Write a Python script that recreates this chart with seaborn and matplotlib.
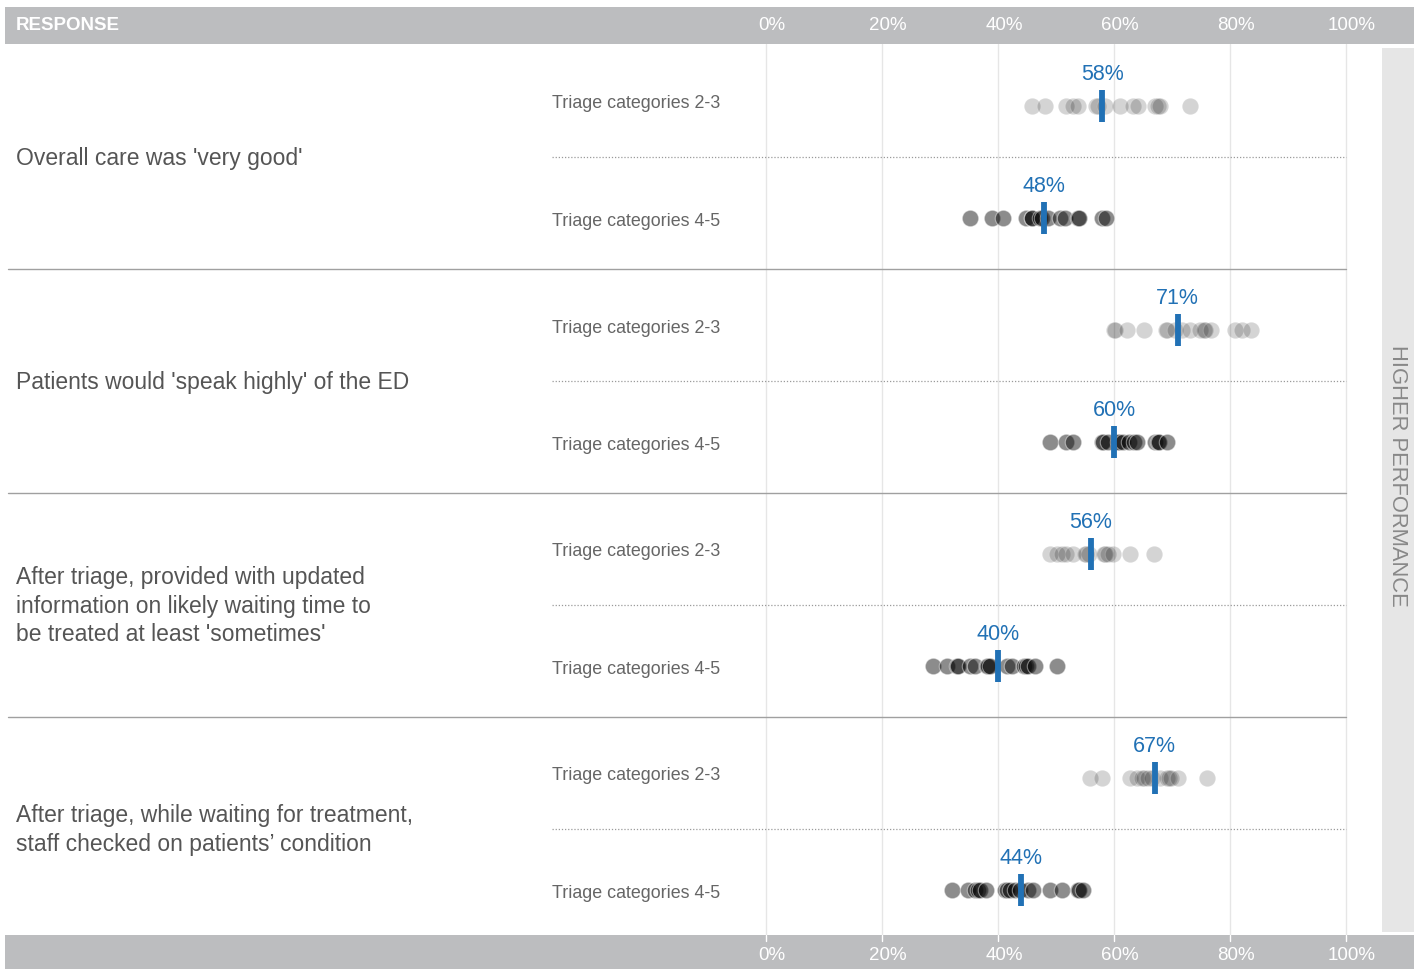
import numpy as np
import pandas as pd
import matplotlib
matplotlib.use("Agg")
import matplotlib.pyplot as plt
from matplotlib.patches import Rectangle
from matplotlib.lines import Line2D
import seaborn as sns

sns.set_theme(style="white")
plt.rcParams['font.family'] = ['Liberation Sans', 'DejaVu Sans']

# ---------------- data ----------------
questions = [
    "Overall care was 'very good'",
    "Patients would 'speak highly' of the ED",
    "After triage, provided with updated\ninformation on likely waiting time to\nbe treated at least 'sometimes'",
    "After triage, while waiting for treatment,\nstaff checked on patients\u2019 condition",
]
subgroups = ["Triage categories 2-3", "Triage categories 4-5"]

q1_t23 = [45.8, 48.1, 51.8, 53.0, 53.8, 56.9, 57.3, 58.4, 61.0, 63.3, 64.2, 67.1, 67.5, 67.9, 73.1]
q1_t45 = [35.1, 38.9, 40.9, 44.8, 45.8, 45.9, 47.2, 47.5, 48.7, 50.7, 51.6, 53.8, 53.9, 57.9, 58.7]
q2_t23 = [60.0, 60.2, 62.2, 65.1, 68.9, 69.1, 70.5, 71.8, 73.1, 74.8, 75.5, 75.7, 76.8, 80.9, 82.0, 83.7]
q2_t45 = [49.0, 51.8, 52.9, 57.9, 58.1, 59.0, 60.7, 60.9, 61.6, 62.5, 63.4, 63.9, 67.1, 67.6, 67.8, 69.1]
q3_t23 = [48.9, 50.1, 51.0, 51.8, 53.0, 55.0, 55.2, 55.7, 58.2, 58.4, 59.0, 59.9, 62.8, 66.9]
q3_t45 = [28.8, 31.2, 32.9, 33.1, 35.2, 36.0, 38.1, 38.3, 38.6, 41.5, 42.4, 44.4, 44.9, 45.2, 46.4, 50.1]
q4_t23 = [55.9, 57.9, 62.8, 63.9, 64.9, 65.1, 65.8, 66.5, 67.9, 69.2, 69.5, 69.9, 71.1, 76.0]
q4_t45 = [32.0, 34.9, 36.0, 36.5, 36.9, 37.9, 41.2, 41.5, 42.1, 42.9, 43.8, 45.2, 46.1, 49.0, 51.0, 53.8, 54.0, 54.7]

state_values = [58, 48, 71, 60, 56, 40, 67, 44]
tick_values = [0, 20, 40, 60, 80, 100]
tick_labels = ["0%", "20%", "40%", "60%", "80%", "100%"]

row_series = [q1_t23, q1_t45, q2_t23, q2_t45, q3_t23, q3_t45, q4_t23, q4_t45]

# ---------------- layout helpers ----------------
W, H = 1424, 969
def fx(x):
    return x / W
def fy(y):
    return 1 - y / H

fig = plt.figure(figsize=(W / 100, H / 100), dpi=100)
fig.patch.set_facecolor("white")

TOP, BOT = 46, 942
X0, X1 = 766, 1346
ax = fig.add_axes([fx(X0), fy(BOT), (X1 - X0) / W, (BOT - TOP) / H])
ax.set_xlim(0, 100)
ax.set_ylim(7.5, -0.5)
ax.set_axis_off()
ax.set_zorder(1)

DOT_OFF = 0.04

# gridlines (behind the axes content)
for t in tick_values:
    fig.add_artist(Line2D([fx(X0 + t * (X1 - X0) / 100)] * 2, [fy(44), fy(942)],
                          color="#e6e6e6", lw=1, zorder=0.5))

# dataframes
rows = []
for i, vals in enumerate(row_series):
    for v in vals:
        rows.append({"row": i + DOT_OFF, "value": v, "group": subgroups[i % 2]})
df = pd.DataFrame(rows)
df_light = df[df["group"] == subgroups[0]]
df_dark = df[df["group"] == subgroups[1]]

sns.scatterplot(data=df_light, x="value", y="row", color="black", alpha=0.17,
                s=140, edgecolor="white", linewidth=0.8, legend=False, ax=ax, zorder=3)
sns.scatterplot(data=df_dark, x="value", y="row", color="black", alpha=0.45,
                s=140, edgecolor="white", linewidth=0.8, legend=False, ax=ax, zorder=3)

blue = "#2171b5"
rows_idx = np.arange(len(state_values))
ax.vlines(state_values, rows_idx + DOT_OFF - 0.143, rows_idx + DOT_OFF + 0.143,
          color=blue, lw=4.2, zorder=5)
for i, v in enumerate(state_values):
    ax.text(v, i + DOT_OFF - 0.29, f"{v}%", ha="center", va="center",
            color=blue, fontsize=15.5, zorder=6)

# separators
for g in range(1, 4):
    y = TOP + 224 * g - 1
    fig.add_artist(Line2D([fx(8), fx(1346)], [fy(y), fy(y)], color="#a0a0a0", lw=1, zorder=2))
for g in range(4):
    y = TOP + 224 * g + 111
    fig.add_artist(Line2D([fx(552), fx(1346)], [fy(y), fy(y)], color="#9a9a9a", lw=0.9,
                          ls=(0, (1, 1.5)), zorder=2))

# subgroup labels
for i in range(8):
    y = TOP + 56 + 112 * i + (2 if i % 2 == 0 else 7)
    fig.text(fx(552), fy(y), subgroups[i % 2], ha="left", va="center",
             fontsize=12.9, color="#666666")

# question labels
for g, q in enumerate(questions):
    y = TOP + 112 + 224 * g
    fig.text(fx(16), fy(y), q, ha="left", va="center", fontsize=16.5,
             color="#555555", linespacing=1.28)

# header & footer bars
fig.add_artist(Rectangle((fx(5), fy(44)), fx(1414 - 5), (44 - 7) / H,
                         facecolor="#bcbdbf", edgecolor="none", zorder=4))
fig.add_artist(Rectangle((fx(5), 0), fx(1414 - 5), (969 - 935) / H,
                         facecolor="#bcbdbf", edgecolor="none", zorder=4))
fig.text(fx(16), fy(25), "RESPONSE", ha="left", va="center", color="white",
         fontsize=13.5, fontweight="bold", zorder=6)
for t, lab in zip(tick_values, tick_labels):
    x = X0 + t * (X1 - X0) / 100 + 6
    fig.text(fx(x), fy(25), lab, ha="center", va="center", color="white",
             fontsize=13.5, zorder=6)
    fig.text(fx(x), fy(956), lab, ha="center", va="center", color="white",
             fontsize=13.5, zorder=6)
    xt = X0 + t * (X1 - X0) / 100
    fig.add_artist(Line2D([fx(xt)] * 2, [fy(935), fy(941)], color="white", lw=1, zorder=5))

# right panel
fig.add_artist(Rectangle((fx(1382), fy(932)), fx(1414 - 1382), (932 - 48) / H,
                         facecolor="#e6e6e6", edgecolor="none", zorder=0.6))
fig.text(fx(1397), fy(476), "HIGHER PERFORMANCE", rotation=-90, ha="center", va="center",
         fontsize=15.8, color="#888888")

fig.savefig("out.png", dpi=100, facecolor="white")
